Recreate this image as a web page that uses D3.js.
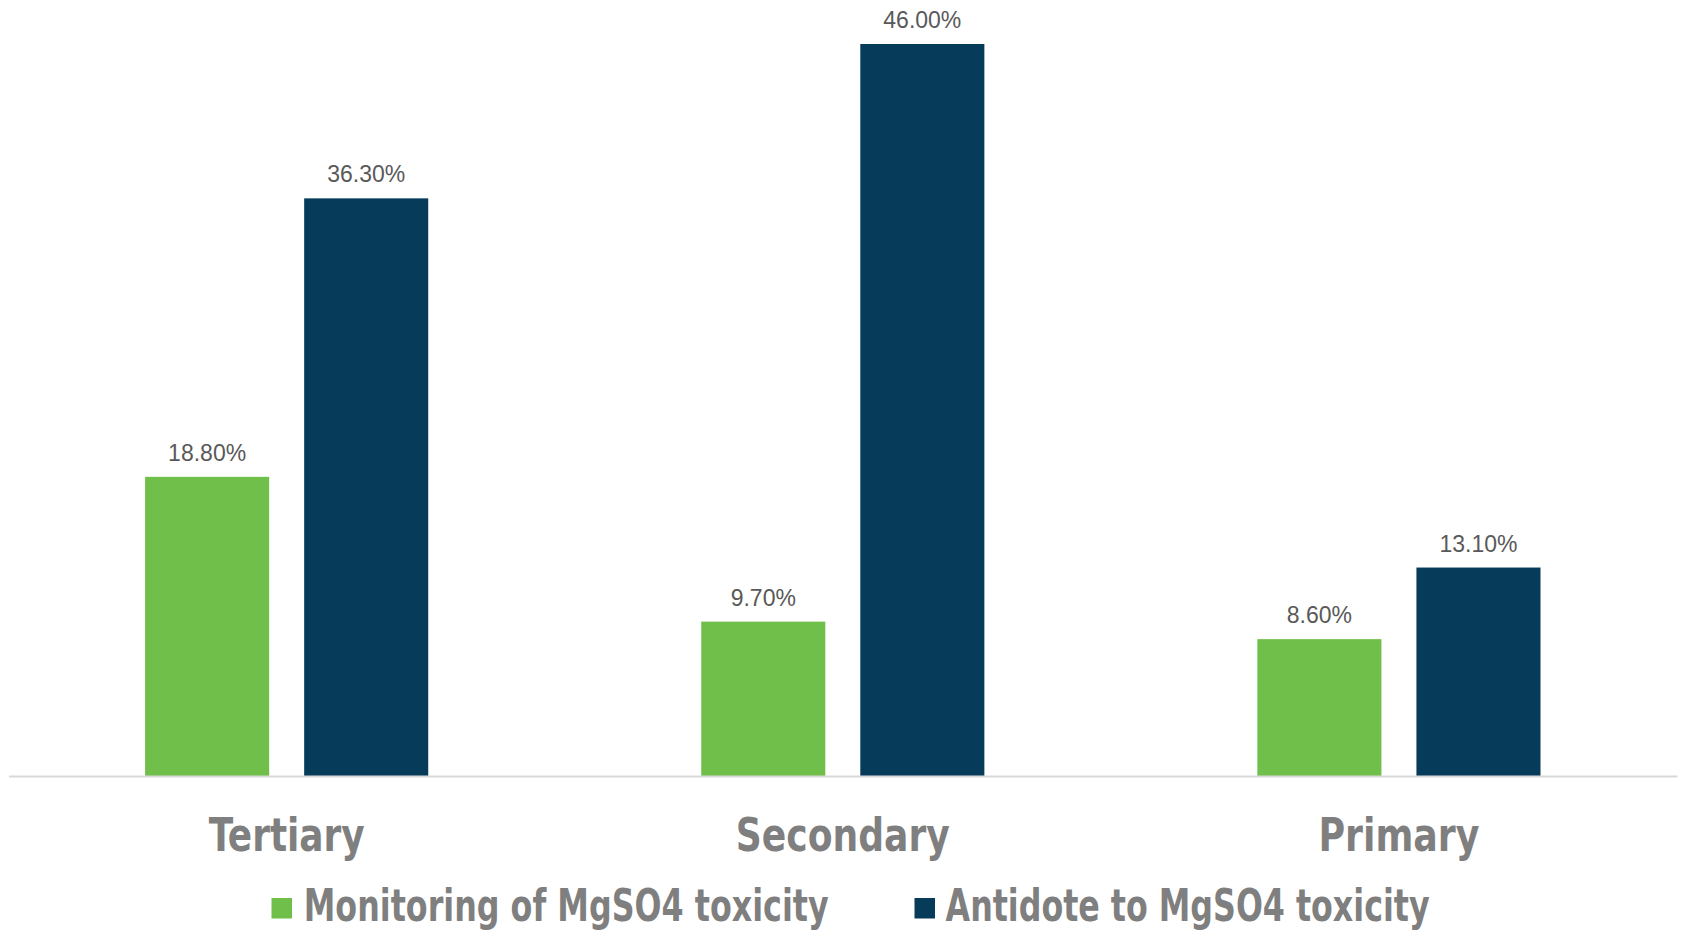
<!DOCTYPE html>
<html>
<head>
<meta charset="utf-8">
<script src="https://cdn.jsdelivr.net/npm/d3@7"></script>
<style>
  html, body { margin: 0; padding: 0; background: #ffffff; }
  svg { display: block; }
</style>
</head>
<body>
<svg id="chart" width="1683" height="931"></svg>
<script>
// Share of facilities by level of care
const categories = ["Tertiary", "Secondary", "Primary"];
const seriesNames = ["Monitoring of MgSO4 toxicity", "Antidote to MgSO4 toxicity"];
const monitoringValues = [18.8, 9.7, 8.6];
const antidoteValues = [36.3, 46.0, 13.1];
const seriesColors = ["#6fbf4a", "#063b5a"];

const svg = d3.select("#chart");

const baseY = 776;
const x0 = d3.scaleBand().domain(categories).range([8.6, 1677]).paddingInner(0).paddingOuter(0);
const x1 = d3.scaleBand().domain(seriesNames).range([136.5, x0.bandwidth() - 136.5]).paddingInner(0.22).paddingOuter(0);
const y = d3.scaleLinear().domain([0, 46]).range([baseY, 44]);

const labelFont = "'Liberation Sans Narrow', 'DejaVu Sans Condensed', sans-serif";
// fitted widths of the category names
const catWidth = { "Tertiary": 156, "Secondary": 214, "Primary": 161 };

const rows = categories.map((c, i) => ({
  category: c,
  values: [
    { series: seriesNames[0], value: monitoringValues[i], color: seriesColors[0] },
    { series: seriesNames[1], value: antidoteValues[i], color: seriesColors[1] }
  ]
}));

const groups = svg.append("g").selectAll("g")
  .data(rows).join("g")
  .attr("transform", d => `translate(${x0(d.category)},0)`);

groups.selectAll("rect")
  .data(d => d.values).join("rect")
  .attr("x", d => x1(d.series))
  .attr("width", x1.bandwidth())
  .attr("y", d => y(d.value))
  .attr("height", d => baseY - y(d.value))
  .attr("fill", d => d.color);

groups.selectAll("text.val")
  .data(d => d.values).join("text")
  .attr("class", "val")
  .attr("x", d => x1(d.series) + x1.bandwidth() / 2)
  .attr("y", d => y(d.value) - 16)
  .attr("text-anchor", "middle")
  .attr("font-family", "'Liberation Sans', Arial, sans-serif")
  .attr("font-size", 23)
  .attr("fill", "#595959")
  .text(d => d.value.toFixed(2) + "%");

// Category axis
const xAxis = svg.append("g")
  .attr("transform", `translate(0,${baseY})`)
  .call(d3.axisBottom(x0).tickSize(0).tickPadding(0));
xAxis.select(".domain").attr("stroke", "#d9d9d9").attr("stroke-width", 2);
xAxis.selectAll(".tick text")
  .attr("y", 75)
  .attr("dy", 0)
  .attr("font-family", labelFont)
  .attr("font-weight", "bold")
  .attr("font-size", 46)
  .attr("textLength", d => catWidth[d])
  .attr("lengthAdjust", "spacingAndGlyphs")
  .attr("fill", "#7f7f7f");

// Legend
const legendItems = [
  { name: seriesNames[0], color: seriesColors[0], sx: 271.5, tx: 303.7, tw: 525 },
  { name: seriesNames[1], color: seriesColors[1], sx: 914.5, tx: 945.6, tw: 484 }
];
const legend = svg.append("g");
legend.selectAll("rect")
  .data(legendItems).join("rect")
  .attr("x", d => d.sx).attr("y", 898)
  .attr("width", 20.5).attr("height", 20.5)
  .attr("fill", d => d.color);
legend.selectAll("text")
  .data(legendItems).join("text")
  .attr("x", d => d.tx).attr("y", 921)
  .attr("textLength", d => d.tw)
  .attr("lengthAdjust", "spacingAndGlyphs")
  .attr("font-family", labelFont)
  .attr("font-weight", "bold")
  .attr("font-size", 45)
  .attr("fill", "#7f7f7f")
  .text(d => d.name);
</script>
</body>
</html>
